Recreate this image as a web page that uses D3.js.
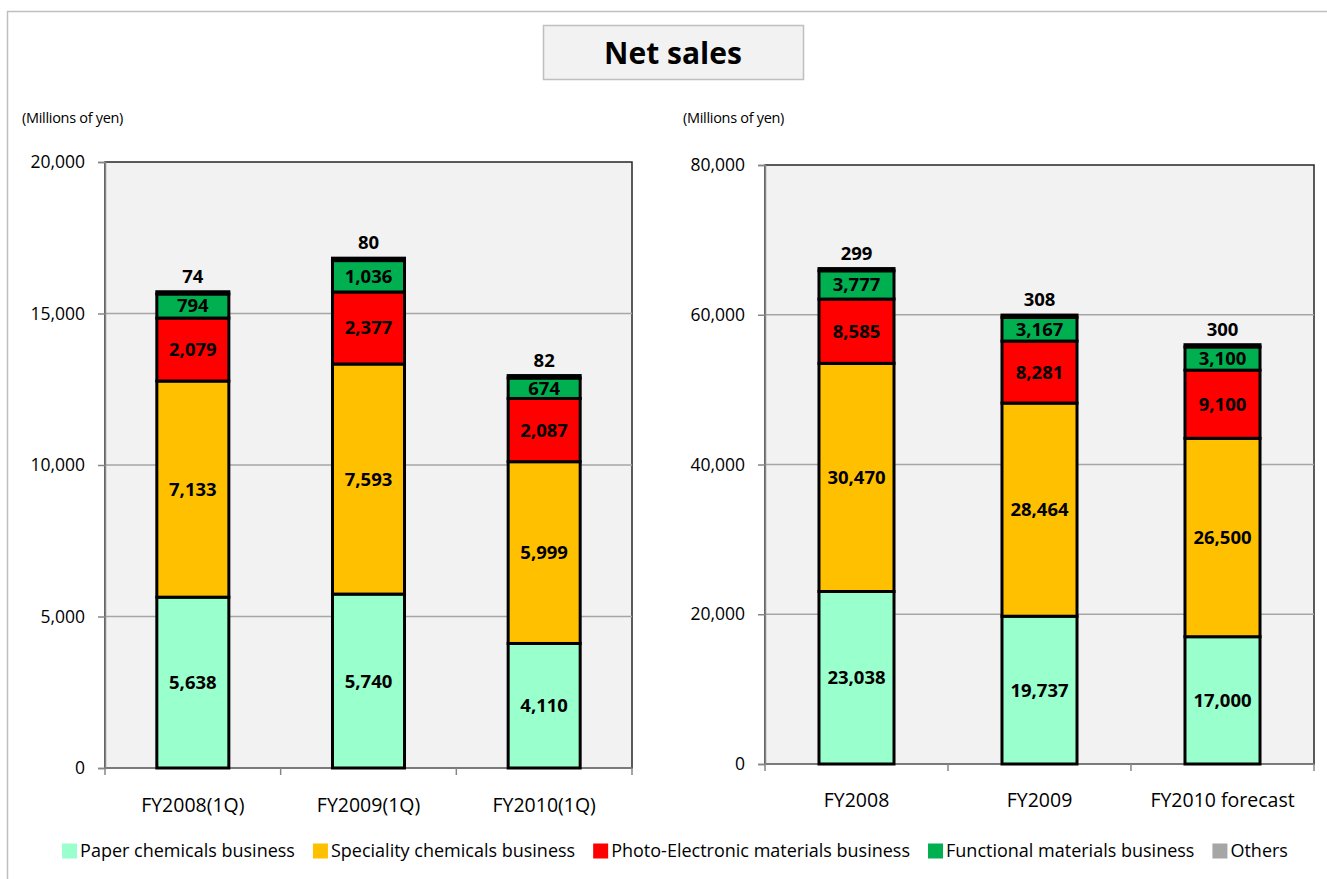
<!DOCTYPE html>
<html>
<head>
<meta charset="utf-8">
<script src="https://cdn.jsdelivr.net/npm/d3@7"></script>
<style>
  html, body { margin:0; padding:0; background:#fff; }
  svg { display:block; font-family:"Open Sans", "Noto Sans", sans-serif; }
  .tick text { fill:#000; }
</style>
</head>
<body>
<svg id="chart" width="1327" height="879"></svg>
<script>
// --- data ---
const series = ['Paper chemicals business', 'Speciality chemicals business',
  'Photo-Electronic materials business', 'Functional materials business', 'Others'];
const colors = ['#99FFCC', '#FFC000', '#FF0000', '#00B050', '#A6A6A6'];

const quarterCats = ['FY2008(1Q)', 'FY2009(1Q)', 'FY2010(1Q)'];
const quarterPaper = [5638, 5740, 4110];
const quarterSpeciality = [7133, 7593, 5999];
const quarterPhoto = [2079, 2377, 2087];
const quarterFunctional = [794, 1036, 674];
const quarterOthers = [74, 80, 82];
const quarterTicks = [0, 5000, 10000, 15000, 20000];

const yearCats = ['FY2008', 'FY2009', 'FY2010 forecast'];
const yearPaper = [23038, 19737, 17000];
const yearSpeciality = [30470, 28464, 26500];
const yearPhoto = [8585, 8281, 9100];
const yearFunctional = [3777, 3167, 3100];
const yearOthers = [299, 308, 300];
const yearTicks = [0, 20000, 40000, 60000, 80000];

const svg = d3.select('#chart');
const fmt = d3.format(',');

// outer frame (runs off the right/bottom edge like the original slide crop)
svg.append('rect')
  .attr('x', 7.5).attr('y', 11.5).attr('width', 1340).attr('height', 900)
  .attr('fill', 'none').attr('stroke', '#bfbfbf').attr('stroke-width', 1.5);

// title box
svg.append('rect')
  .attr('x', 543.5).attr('y', 25.5).attr('width', 260).attr('height', 54)
  .attr('fill', '#f2f2f2').attr('stroke', '#bfbfbf').attr('stroke-width', 1.5);
svg.append('text')
  .attr('x', 673).attr('y', 64)
  .attr('text-anchor', 'middle')
  .attr('font-size', 30).attr('font-weight', 700)
  .text('Net sales');

function drawPanel(opts){
  const { cats, cols, ticks, x0, x1, y0, y1, unitX, labelPad } = opts;
  const g = svg.append('g');

  const x = d3.scaleBand().domain(cats).range([x0, x1])
    .paddingInner(0.59).paddingOuter(0.295);
  const edge = d3.scaleLinear().domain([0, cats.length]).range([x0, x1]);
  const y = d3.scaleLinear().domain([0, d3.max(ticks)]).range([y1, y0]);

  // plot background + frame
  g.append('rect')
    .attr('x', x0).attr('y', y0).attr('width', x1 - x0).attr('height', y1 - y0)
    .attr('fill', '#f2f2f2').attr('stroke', '#262626').attr('stroke-width', 1.5);

  // grid
  g.append('g').selectAll('line')
    .data(ticks.filter(t => t > 0 && t < d3.max(ticks)))
    .join('line')
    .attr('x1', x0).attr('x2', x1)
    .attr('y1', d => y(d)).attr('y2', d => y(d))
    .attr('stroke', '#a6a6a6').attr('stroke-width', 1.5);

  // y axis
  const ya = g.append('g').attr('transform', `translate(${x0},0)`)
    .call(d3.axisLeft(y).tickValues(ticks).tickFormat(fmt).tickSize(7).tickPadding(13));
  ya.select('.domain').attr('stroke', '#868686').attr('stroke-width', 1.5);
  ya.selectAll('.tick line').attr('stroke', '#868686').attr('stroke-width', 1.5);
  ya.selectAll('.tick text').attr('font-size', 17.5).attr('font-family', '"Open Sans", sans-serif');

  // x axis: labels at band centres, ticks at band edges
  const xa = g.append('g').attr('transform', `translate(0,${y1})`)
    .call(d3.axisBottom(x).tickSize(0).tickPadding(labelPad));
  xa.select('.domain').remove();
  xa.selectAll('.tick text').attr('font-size', 19.5).attr('font-family', '"Open Sans", sans-serif');
  g.append('line')
    .attr('x1', x0).attr('x2', x1).attr('y1', y1).attr('y2', y1)
    .attr('stroke', '#868686').attr('stroke-width', 1.5);
  g.append('g').selectAll('line')
    .data(d3.range(cats.length + 1))
    .join('line')
    .attr('x1', d => edge(d)).attr('x2', d => edge(d))
    .attr('y1', y1).attr('y2', y1 + 7)
    .attr('stroke', '#868686').attr('stroke-width', 1.5);

  // stacked bars
  const rows = cats.map((c, i) => {
    const r = { cat: c };
    series.forEach((s, k) => { r[s] = cols[k][i]; });
    return r;
  });
  const stacked = d3.stack().keys(series)(rows);

  const layers = g.append('g').selectAll('g')
    .data(stacked)
    .join('g')
    .attr('fill', (d, k) => colors[k]);

  layers.selectAll('rect')
    .data(d => d)
    .join('rect')
    .attr('x', d => x(d.data.cat))
    .attr('width', x.bandwidth())
    .attr('y', d => y(d[1]))
    .attr('height', d => y(d[0]) - y(d[1]))
    .attr('stroke', '#000').attr('stroke-width', 3);

  // value labels inside segments (all except Others)
  const labels = g.append('g')
    .attr('font-size', 18.5).attr('font-weight', 700).attr('text-anchor', 'middle');
  stacked.slice(0, 4).forEach(layer => {
    labels.selectAll(null)
      .data(layer)
      .join('text')
      .attr('x', d => x(d.data.cat) + x.bandwidth() / 2)
      .attr('y', d => (y(d[0]) + y(d[1])) / 2)
      .attr('dy', '0.35em')
      .text(d => fmt(d[1] - d[0]));
  });
  // Others value above bar
  const top = stacked[stacked.length - 1];
  labels.selectAll(null)
    .data(top)
    .join('text')
    .attr('x', d => x(d.data.cat) + x.bandwidth() / 2)
    .attr('y', d => y(d[1]) - 9)
    .text(d => fmt(d[1] - d[0]));

  // unit label
  svg.append('text')
    .attr('x', unitX).attr('y', 123)
    .attr('font-size', 14.5).attr('letter-spacing', -0.3)
    .text('(Millions of yen)');
}

drawPanel({
  cats: quarterCats,
  cols: [quarterPaper, quarterSpeciality, quarterPhoto, quarterFunctional, quarterOthers],
  ticks: quarterTicks,
  x0: 105, x1: 632, y0: 162, y1: 768, unitX: 22, labelPad: 30
});
drawPanel({
  cats: yearCats,
  cols: [yearPaper, yearSpeciality, yearPhoto, yearFunctional, yearOthers],
  ticks: yearTicks,
  x0: 765, x1: 1314, y0: 165, y1: 764, unitX: 683, labelPad: 29
});

// legend
const legend = svg.append('g').attr('font-size', 18);
const items = legend.selectAll('g')
  .data(series)
  .join('g');
items.append('rect')
  .attr('width', 15).attr('height', 15).attr('y', -7.5)
  .attr('fill', (d, k) => colors[k]);
items.append('text')
  .attr('x', 18).attr('dy', '0.35em')
  .text(d => d);
let cx = 0;
const gap = 18;
items.each(function(){
  const w = this.getBBox().width;
  this.__x = cx;
  cx += w + gap;
});
const totalW = cx - gap;
const startX = 675 - totalW / 2;
items.attr('transform', function(){ return `translate(${startX + this.__x},851)`; });
</script>
</body>
</html>
